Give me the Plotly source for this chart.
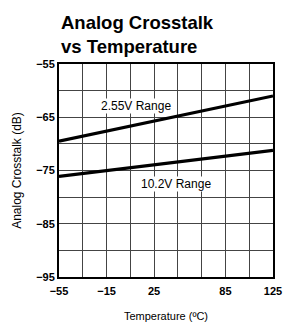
import plotly.graph_objects as go

temps = [-55, 125]
range_255 = [-69.5, -61.0]
range_102 = [-76.1, -71.2]

x_grid = [-55, -35, -15, 5, 25, 45, 65, 85, 105, 125]
x_labels = ["−55", "", "−15", "", "25", "", "", "85", "", "125"]
y_grid = [-95, -90, -85, -80, -75, -70, -65, -60, -55]
y_labels = ["−95", "", "−85", "", "−75", "", "−65", "", "−55"]

annotations_text = ["2.55V Range", "10.2V Range"]
annotations_x = [9.9, 43.6]
annotations_y = [-62.9, -77.6]

title_lines = ["Analog Crosstalk", "vs Temperature"]

fig = go.Figure()
fig.add_trace(go.Scatter(x=temps, y=range_255, mode="lines",
                         line=dict(color="black", width=3.2), showlegend=False))
fig.add_trace(go.Scatter(x=temps, y=range_102, mode="lines",
                         line=dict(color="black", width=3.2), showlegend=False))

for t, xv, yv in zip(annotations_text, annotations_x, annotations_y):
    fig.add_annotation(x=xv, y=yv, text=t, showarrow=False,
                       font=dict(family="Liberation Sans", size=12, color="black"),
                       bgcolor="white", borderpad=0)

W, H = 283, 324
L, R, T, B = 59, 10, 64, 47
pw, ph = W - L - R, H - T - B
for i, line in enumerate(title_lines):
    ypix = 22 + 25 * i
    fig.add_annotation(xref="paper", yref="paper",
                       x=(59 - L) / pw, y=(H - B - ypix) / ph,
                       xanchor="left", yanchor="middle", showarrow=False,
                       text="<b>" + line + "</b>",
                       font=dict(family="Liberation Sans", size=18.5, color="black"))

fig.update_layout(
    width=W, height=H,
    margin=dict(l=L, r=R, t=T, b=B),
    paper_bgcolor="white", plot_bgcolor="white",
    font=dict(family="Liberation Sans", color="black"),
)
fig.update_xaxes(range=[-55, 125], tickvals=x_grid, ticktext=x_labels,
                 showgrid=True, gridcolor="#444", gridwidth=1,
                 showline=True, linecolor="black", linewidth=2, mirror=True,
                 ticks="", zeroline=False, automargin=False,
                 ticklabeloverflow="allow", ticklabelstandoff=3,
                 tickfont=dict(size=11, family="Liberation Sans", weight="bold"),
                 title=dict(text="Temperature (ºC)", font=dict(size=11), standoff=16))
fig.update_yaxes(range=[-95, -55], tickvals=y_grid, ticktext=y_labels,
                 showgrid=True, gridcolor="#444", gridwidth=1,
                 showline=True, linecolor="black", linewidth=2, mirror=True,
                 ticks="", zeroline=False, automargin=False,
                 tickfont=dict(size=11, family="Liberation Sans", weight="bold"),
                 title=dict(text="Analog Crosstalk (dB)", font=dict(size=12), standoff=12))

fig.write_html("out.html", config={"displayModeBar": False},
               post_script="document.body.style.margin='0';document.body.style.overflow='hidden';")
